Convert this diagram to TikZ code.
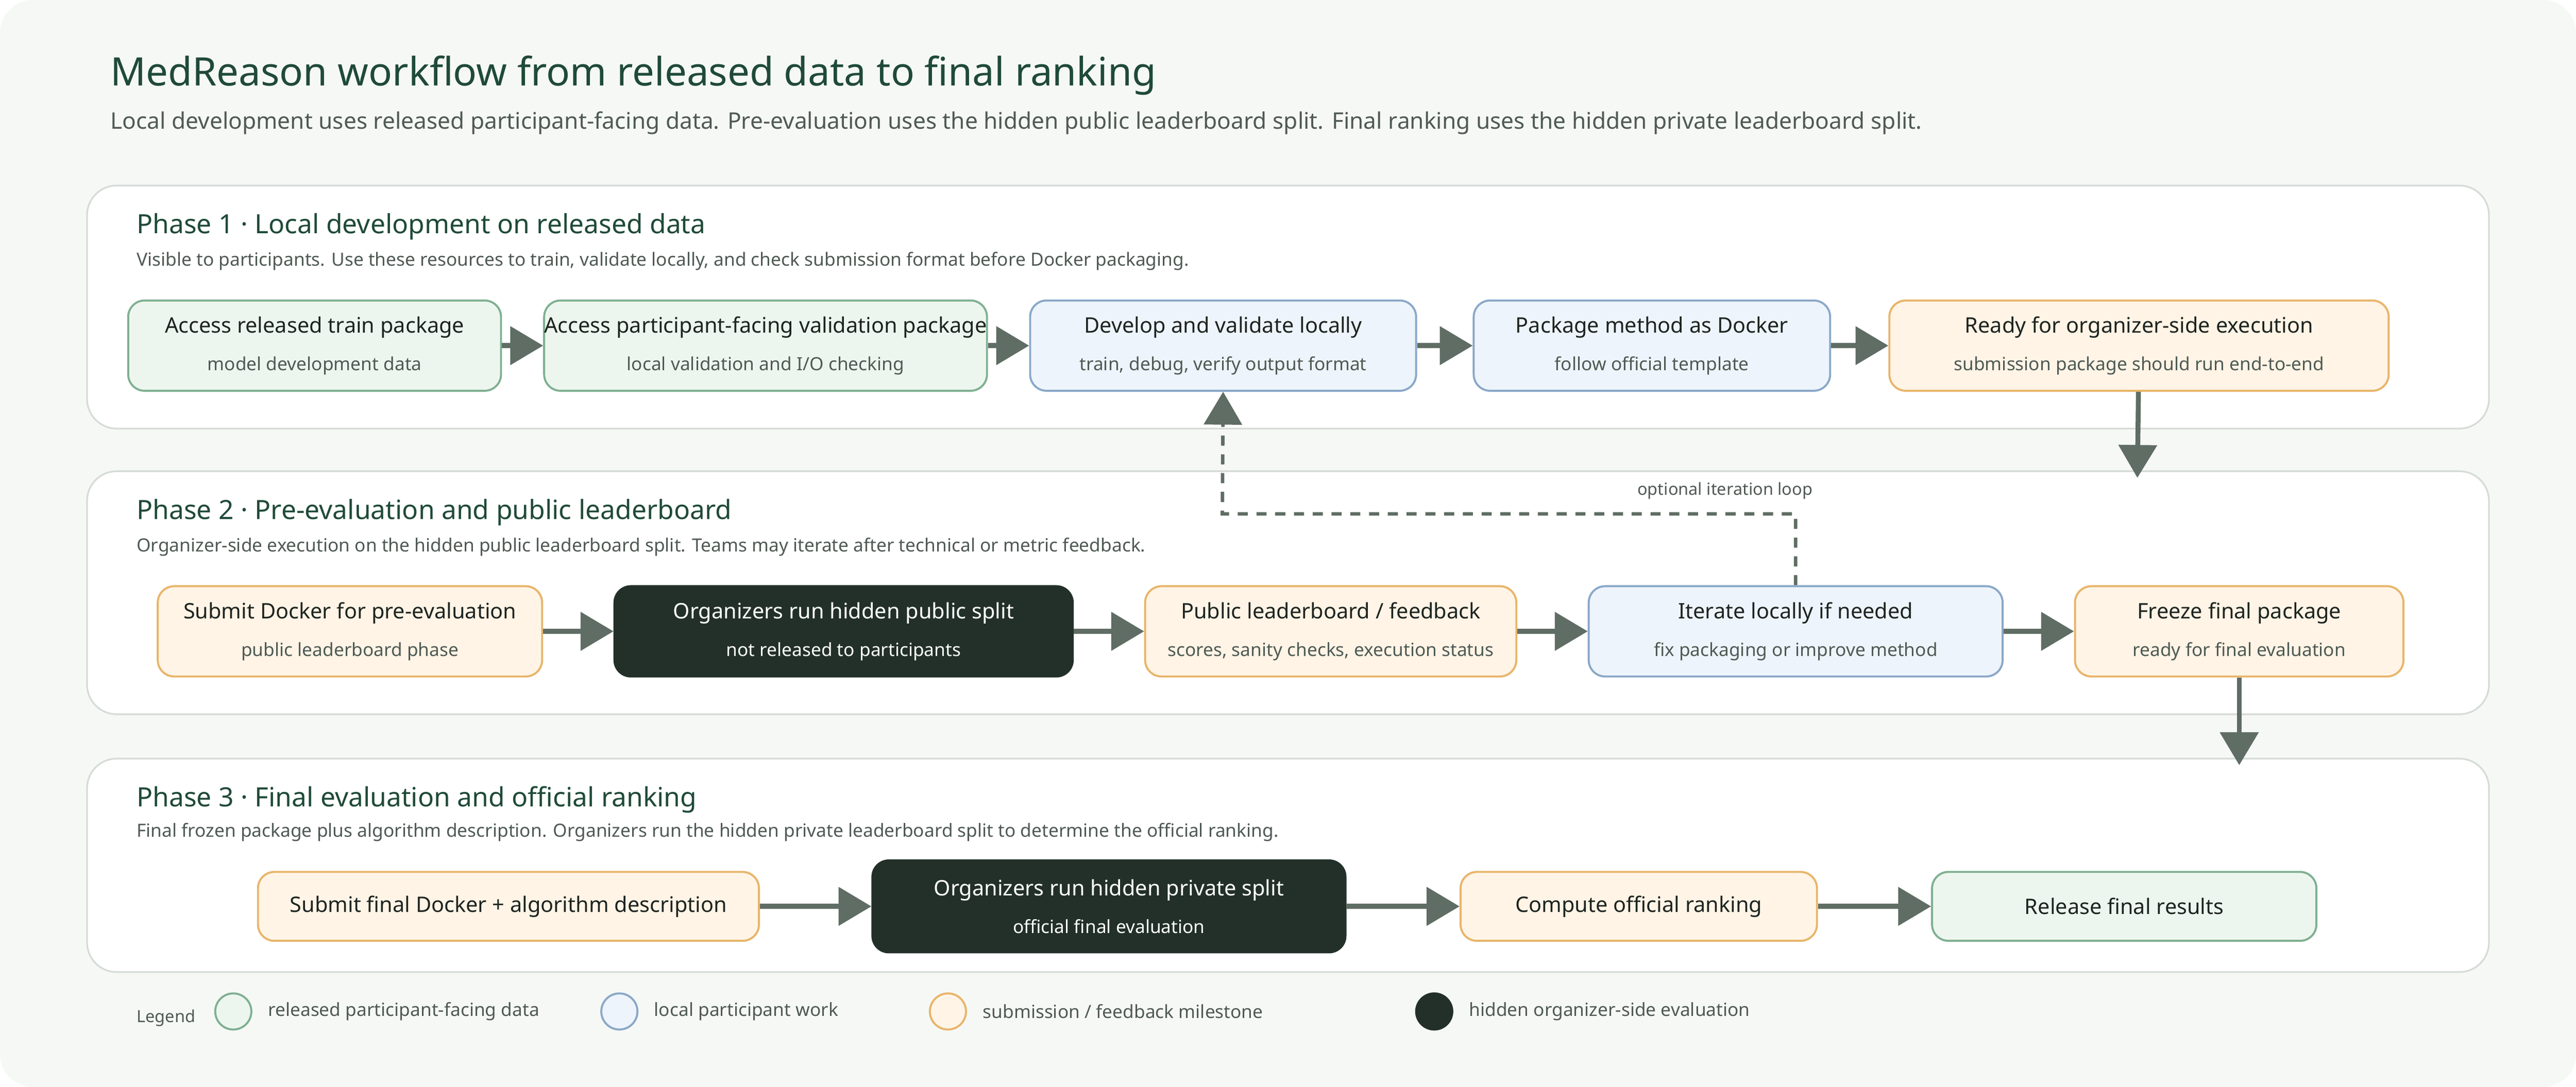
\documentclass[tikz,border=0pt]{standalone}
\usepackage{fontspec}
\setmainfont{Noto Sans}
\usetikzlibrary{arrows.meta}

\definecolor{bgc}{HTML}{F6F8F5}
\definecolor{panelline}{HTML}{D6DCD7}
\definecolor{titlec}{HTML}{1F4A38}
\definecolor{txtc}{HTML}{1E2420}
\definecolor{subc}{HTML}{4F5A54}
\definecolor{arrc}{HTML}{5F6D64}
\definecolor{grfill}{HTML}{EDF6EE}
\definecolor{grline}{HTML}{7FB092}
\definecolor{blfill}{HTML}{EEF4FB}
\definecolor{blline}{HTML}{8AA8C8}
\definecolor{orfill}{HTML}{FFF4E6}
\definecolor{orline}{HTML}{E8B56A}
\definecolor{dkfill}{HTML}{223029}

\newcommand{\boxtxt}[2]{{\fontsize{7.4}{9}\selectfont\bfseries #1}\\[1pt]{\fontsize{6.3}{8}\selectfont\color{subc}#2}}
\newcommand{\darktxt}[2]{{\fontsize{7.4}{9}\selectfont\bfseries #1}\\[1pt]{\fontsize{6.3}{8}\selectfont #2}}

\tikzset{
  box/.style={draw, rounded corners=0.2cm, line width=0.7pt, align=center, text=txtc, inner sep=0pt, minimum height=1.1cm},
  released/.style={box, fill=grfill, draw=grline},
  localw/.style={box, fill=blfill, draw=blline},
  milestone/.style={box, fill=orfill, draw=orline},
  hidden/.style={box, fill=dkfill, draw=dkfill, text=white},
  flow/.style={draw=arrc, line width=1.7pt, -{Triangle[length=0.4cm,width=0.46cm]}},
  panel/.style={draw=panelline, fill=white, rounded corners=0.36cm, line width=0.6pt},
  phasehead/.style={anchor=west, text=titlec, font=\fontsize{9.2}{11}\selectfont\bfseries},
  phasedesc/.style={anchor=west, text=subc, font=\fontsize{6.3}{8}\selectfont},
  legdot/.style={circle, minimum size=0.44cm, inner sep=0pt, line width=0.7pt},
  legtxt/.style={anchor=west, text=subc, font=\fontsize{6.3}{8}\selectfont}
}

\begin{document}
\begin{tikzpicture}[x=0.02cm, y=-0.02cm]
  \useasboundingbox (0,0) rectangle (1568,662);
  \fill[bgc, rounded corners=0.4cm] (0,0) rectangle (1568,662);

  % title
  \node[anchor=west, text=titlec, font=\fontsize{13.6}{16}\selectfont\bfseries] (title) at (61,46) {MedReason workflow from released data to final ranking};
  \node[anchor=west, text=subc, font=\fontsize{7.9}{10}\selectfont] (subtitle) at (61,75) {Local development uses released participant-facing data. Pre-evaluation uses the hidden public leaderboard split. Final ranking uses the hidden private leaderboard split.};

  % panels
  \draw[panel] (53,113) rectangle (1515,261);
  \draw[panel] (53,287) rectangle (1515,435);
  \draw[panel] (53,462) rectangle (1515,592);

  % phase 1
  \node[phasehead] (p1h) at (77,138) {Phase 1 · Local development on released data};
  \node[phasedesc] (p1d) at (77,159) {Visible to participants. Use these resources to train, validate locally, and check submission format before Docker packaging.};
  \node[released, minimum width=4.54cm] (train) at (191.5,210.5) {\boxtxt{Access released train package}{model development data}};
  \node[released, minimum width=5.04cm] (valid) at (466,210.5) {\boxtxt{Access participant-facing validation package}{local validation and I/O checking}};
  \node[localw, minimum width=4.7cm] (develop) at (744.5,210.5) {\boxtxt{Develop and validate locally}{train, debug, verify output format}};
  \node[localw, minimum width=4.34cm] (package) at (1005.5,210.5) {\boxtxt{Package method as Docker}{follow official template}};
  \node[milestone, minimum width=6.08cm] (ready) at (1302,210.5) {\boxtxt{Ready for organizer-side execution}{submission package should run end-to-end}};

  % phase 2
  \node[phasehead] (p2h) at (77,312) {Phase 2 · Pre-evaluation and public leaderboard};
  \node[phasedesc] (p2d) at (77,333) {Organizer-side execution on the hidden public leaderboard split. Teams may iterate after technical or metric feedback.};
  \node[milestone, minimum width=4.68cm] (submit) at (213,384.5) {\boxtxt{Submit Docker for pre-evaluation}{public leaderboard phase}};
  \node[hidden, minimum width=5.58cm] (pubsplit) at (513.5,384.5) {\darktxt{Organizers run hidden public split}{not released to participants}};
  \node[milestone, minimum width=4.52cm] (feedback) at (810,384.5) {\boxtxt{Public leaderboard / feedback}{scores, sanity checks, execution status}};
  \node[localw, minimum width=5.04cm] (iterate) at (1093,384.5) {\boxtxt{Iterate locally if needed}{fix packaging or improve method}};
  \node[milestone, minimum width=4cm] (freeze) at (1363,384.5) {\boxtxt{Freeze final package}{ready for final evaluation}};

  % phase 3
  \node[phasehead] (p3h) at (77,487) {Phase 3 · Final evaluation and official ranking};
  \node[phasedesc] (p3d) at (77,507) {Final frozen package plus algorithm description. Organizers run the hidden private leaderboard split to determine the official ranking.};
  \node[milestone, minimum width=6.1cm, minimum height=0.84cm] (final) at (309.5,552) {{\fontsize{7.4}{9}\selectfont\bfseries Submit final Docker + algorithm description}};
  \node[hidden, minimum width=5.76cm, minimum height=1.12cm] (privsplit) at (675,552) {\darktxt{Organizers run hidden private split}{official final evaluation}};
  \node[milestone, minimum width=4.34cm, minimum height=0.84cm] (ranking) at (997.5,552) {{\fontsize{7.4}{9}\selectfont\bfseries Compute official ranking}};
  \node[released, minimum width=4.68cm, minimum height=0.84cm] (release) at (1293,552) {{\fontsize{7.4}{9}\selectfont\bfseries Release final results}};

  % flows
  \draw[flow] (train) -- (valid);
  \draw[flow] (valid) -- (develop);
  \draw[flow] (develop) -- (package);
  \draw[flow] (package) -- (ready);
  \coordinate (p2top) at (1301,291);
  \draw[flow] (ready) -- (p2top);
  \draw[flow] (submit) -- (pubsplit);
  \draw[flow] (pubsplit) -- (feedback);
  \draw[flow] (feedback) -- (iterate);
  \draw[flow] (iterate) -- (freeze);
  \coordinate (p3top) at (1363,466);
  \draw[flow] (freeze) -- (p3top);
  \draw[flow] (final) -- (privsplit);
  \draw[flow] (privsplit) -- (ranking);
  \draw[flow] (ranking) -- (release);

  % iteration loop
  \draw[arrc, line width=1.2pt, dash pattern=on 3.5pt off 3pt, -{Triangle[length=0.4cm,width=0.46cm]}] (iterate.north) |- (744,313) -- (develop.south);
  \node[text=subc, font=\fontsize{5.8}{7}\selectfont\bfseries] (looplbl) at (1050,299) {optional iteration loop};

  % legend
  \node[anchor=west, text=subc, font=\fontsize{5.8}{7}\selectfont\bfseries] (legend) at (77,620) {Legend};
  \node[legdot, fill=grfill, draw=grline] (lg1) at (142,616) {};
  \node[legtxt] (lt1) at (157,616) {released participant-facing data};
  \node[legdot, fill=blfill, draw=blline] (lg2) at (377,616) {};
  \node[legtxt] (lt2) at (392,616) {local participant work};
  \node[legdot, fill=orfill, draw=orline] (lg3) at (577,616) {};
  \node[legtxt] (lt3) at (592,616) {submission / feedback milestone};
  \node[legdot, fill=dkfill, draw=dkfill] (lg4) at (873,616) {};
  \node[legtxt] (lt4) at (888,616) {hidden organizer-side evaluation};
\end{tikzpicture}
\end{document}
